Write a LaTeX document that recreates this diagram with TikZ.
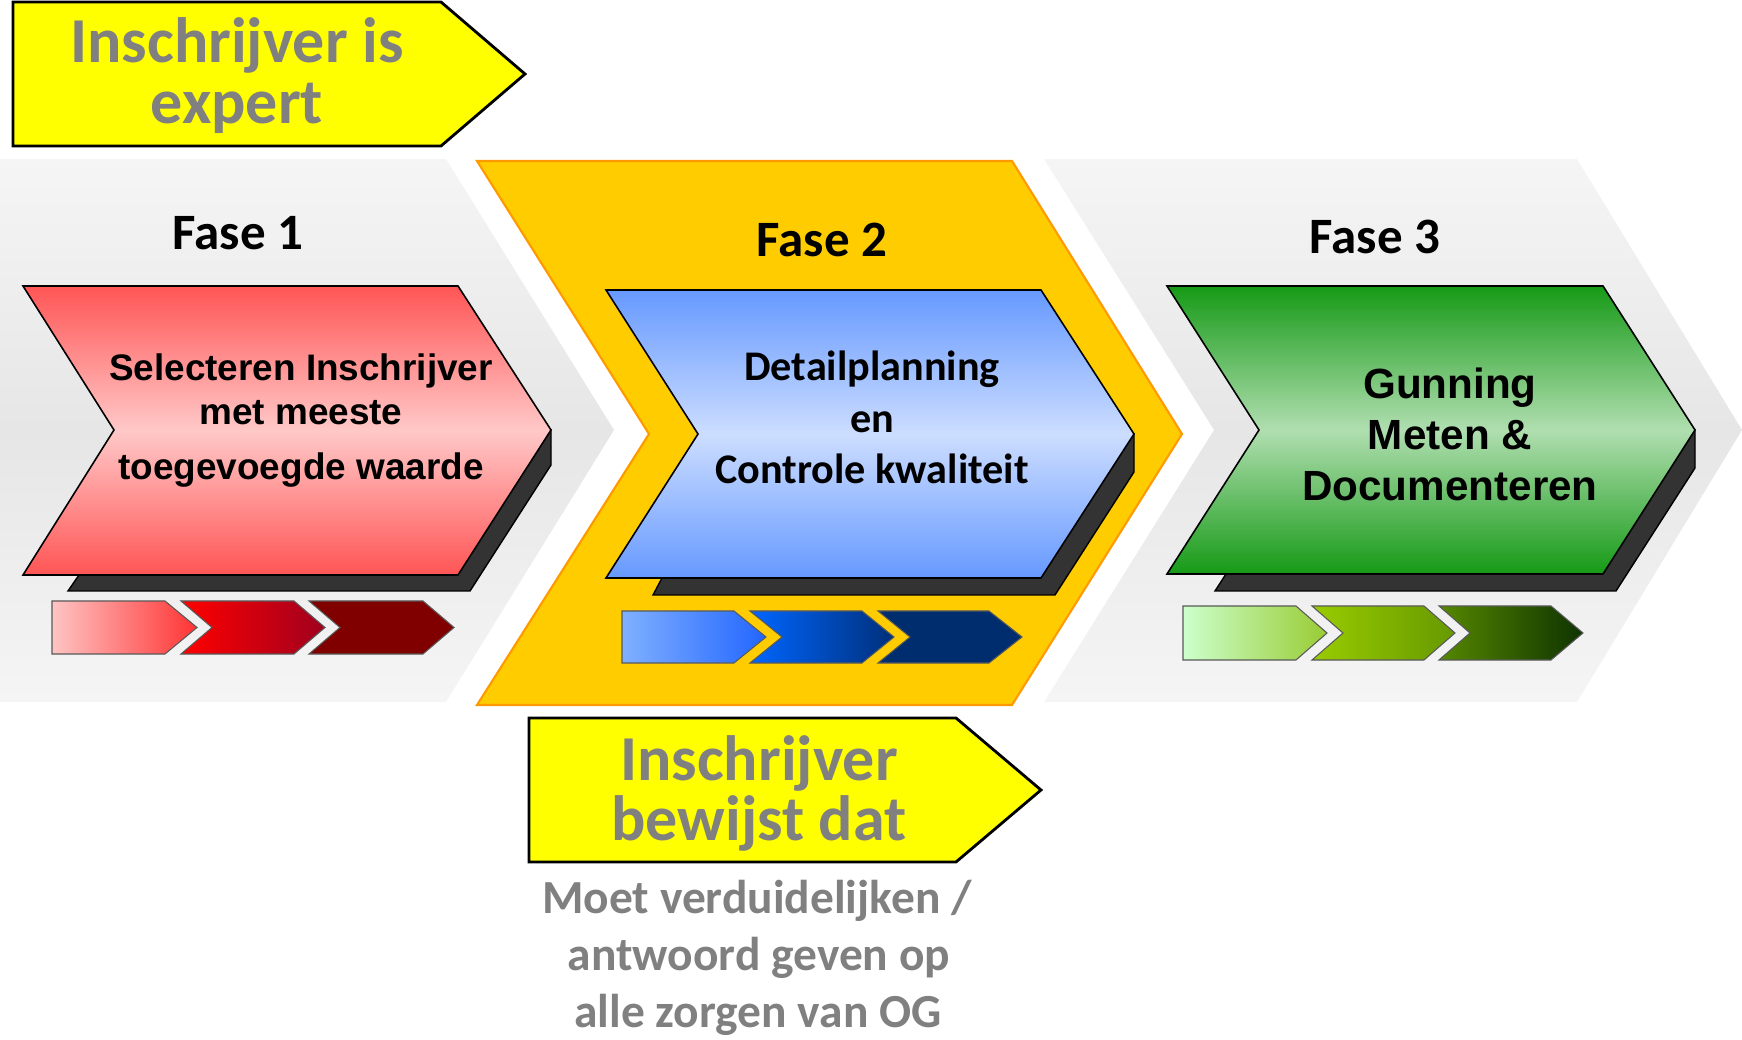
\documentclass[tikz,border=0pt]{standalone}
\usepackage{fontspec}
\setmainfont{Carlito}
\newfontfamily\arialfont{Liberation Sans}
\usepackage{xcolor}

\definecolor{bggray}{HTML}{F5F5F5}
\definecolor{bgmid}{HTML}{E6E6E6}
\definecolor{faseorange}{HTML}{FFCC00}
\definecolor{faseorangeline}{HTML}{FF9900}
\definecolor{signyellow}{HTML}{FFFF00}
\definecolor{labelgray}{HTML}{808080}
\definecolor{shadowgray}{HTML}{333333}
\definecolor{redtop}{HTML}{FF5555}
\definecolor{redmid}{HTML}{FFC8C8}
\definecolor{bluetop}{HTML}{6699FF}
\definecolor{bluemid}{HTML}{CCDDFF}
\definecolor{greentop}{HTML}{169A16}
\definecolor{greenmid}{HTML}{B0DEB0}
% kleine pijlen
\definecolor{redA}{HTML}{FFC4C4}
\definecolor{redB}{HTML}{FF3333}
\definecolor{redC}{HTML}{FF0000}
\definecolor{redD}{HTML}{A0001E}
\definecolor{redE}{HTML}{800000}
\definecolor{blueA}{HTML}{80B0FF}
\definecolor{blueB}{HTML}{2266FF}
\definecolor{blueC}{HTML}{0066FF}
\definecolor{blueD}{HTML}{002F7A}
\definecolor{blueE}{HTML}{002D6E}
\definecolor{greenA}{HTML}{CCFFCC}
\definecolor{greenB}{HTML}{99CC33}
\definecolor{greenC}{HTML}{99CC00}
\definecolor{greenD}{HTML}{669900}
\definecolor{greenE}{HTML}{558800}
\definecolor{greenF}{HTML}{0F3300}

\begin{document}
\begin{tikzpicture}[x=0.01cm,y=-0.01cm,
    fasebg/.style={top color=bggray,bottom color=bggray,middle color=bgmid},
    chevline/.style={draw=black,line width=0.45pt},
    shadowfill/.style={fill=shadowgray,draw=black,line width=0.4pt},
    minichev/.style={draw=black!65,line width=0.3pt},
    signbox/.style={fill=signyellow,draw=black,line width=0.8pt},
    faselabel/.style={anchor=base,font=\fontsize{14.5}{17}\selectfont\bfseries},
    redtext/.style={anchor=base,font=\arialfont\fontsize{10.5}{12}\selectfont\bfseries},
    bluetext/.style={anchor=base,font=\fontsize{12}{14}\selectfont\bfseries},
    greentext/.style={anchor=base,font=\arialfont\fontsize{12}{14}\selectfont\bfseries},
    signtext/.style={anchor=base,text=labelgray,font=\fontsize{18.2}{20}\selectfont\bfseries},
    notetext/.style={anchor=base,text=labelgray,font=\fontsize{13.5}{15}\selectfont\bfseries}]
    \useasboundingbox (0,0) rectangle (1742,1040);

    % achtergrond fasen
    \shade[fasebg] (0,159) -- (446,159) -- (614,430) -- (446,702) -- (0,702) -- cycle;
    \draw[fill=faseorange,draw=faseorangeline,line width=0.6pt] (477,161) -- (1012,161) -- (1182,434) -- (1012,705) -- (477,705) -- (649,434) -- cycle;
    \shade[fasebg] (1044,159) -- (1577,159) -- (1742,430) -- (1577,702) -- (1044,702) -- (1214,430) -- cycle;

    % bordjes
    \draw[signbox] (13,2) -- (441,2) -- (525,74) -- (441,146) -- (13,146) -- cycle;
    \draw[signbox] (529,718) -- (956,718) -- (1041,790) -- (956,862) -- (529,862) -- cycle;

    % schaduwen
    \draw[shadowfill] (79,575) -- (68,591) -- (470,591) -- (551,465) -- (551,430) -- cycle;
    \draw[shadowfill] (662,578) -- (653,595) -- (1055,595) -- (1134,472) -- (1134,434) -- cycle;
    \draw[shadowfill] (1226,574) -- (1215,591) -- (1616,591) -- (1695,468) -- (1695,430) -- cycle;

    % hoofdpijlen
    \shade[top color=redtop,bottom color=redtop,middle color=redmid,chevline] (23,286) -- (458,286) -- (551,430) -- (458,575) -- (23,575) -- (114,430) -- cycle;
    \shade[top color=bluetop,bottom color=bluetop,middle color=bluemid,chevline] (606,290) -- (1041,290) -- (1134,434) -- (1041,578) -- (606,578) -- (698,434) -- cycle;
    \shade[top color=greentop,bottom color=greentop,middle color=greenmid,chevline] (1167,286) -- (1603,286) -- (1695,430) -- (1603,574) -- (1167,574) -- (1259,430) -- cycle;

    % kleine pijlen
    \shade[left color=redA,right color=redB,minichev] (52,601) -- (165,601) -- (197,627.5) -- (165,654) -- (52,654) -- cycle;
    \shade[left color=redC,right color=redD,minichev] (181,601) -- (294,601) -- (325,627.5) -- (294,654) -- (181,654) -- (212,627.5) -- cycle;
    \draw[fill=redE,minichev] (309,601) -- (423,601) -- (454,627.5) -- (423,654) -- (309,654) -- (340,627.5) -- cycle;

    \shade[left color=blueA,right color=blueB,minichev] (622,611) -- (734,611) -- (766,637) -- (734,663) -- (622,663) -- cycle;
    \shade[left color=blueC,right color=blueD,minichev] (750,611) -- (862,611) -- (894,637) -- (862,663) -- (750,663) -- (782,637) -- cycle;
    \draw[fill=blueE,minichev] (878,611) -- (989,611) -- (1022,637) -- (989,663) -- (878,663) -- (910,637) -- cycle;

    \shade[left color=greenA,right color=greenB,minichev] (1183,606) -- (1296,606) -- (1327,633) -- (1296,660) -- (1183,660) -- cycle;
    \shade[left color=greenC,right color=greenD,minichev] (1312,606) -- (1424,606) -- (1455,633) -- (1424,660) -- (1312,660) -- (1343,633) -- cycle;
    \shade[left color=greenE,right color=greenF,minichev] (1439,606) -- (1551,606) -- (1583,633) -- (1551,660) -- (1439,660) -- (1470,633) -- cycle;

    % teksten
    \node[faselabel] (fase1) at (238,250) {Fase 1};
    \node[faselabel] (fase2) at (822,257) {Fase 2};
    \node[faselabel] (fase3) at (1375,254) {Fase 3};

    \node[redtext] (select1) at (301,381) {Selecteren Inschrijver};
    \node[redtext] (select2) at (301,425) {met meeste};
    \node[redtext] (select3) at (301,480) {toegevoegde waarde};

    \node[bluetext] (detail1) at (872,381) {Detailplanning};
    \node[bluetext] (detail2) at (872,433) {en};
    \node[bluetext] (detail3) at (872,484) {Controle kwaliteit};

    \node[greentext] (gunning1) at (1450,399) {Gunning};
    \node[greentext] (gunning2) at (1450,450) {Meten \&};
    \node[greentext] (gunning3) at (1450,501) {Documenteren};

    \node[signtext] (expert1) at (237,63) {Inschrijver is};
    \node[signtext] (expert2) at (237,124) {expert};
    \node[signtext] (bewijs1) at (759,780) {Inschrijver};
    \node[signtext] (bewijs2) at (759,840) {bewijst dat};

    \node[notetext] (zorgen1) at (757,913) {Moet verduidelijken /};
    \node[notetext] (zorgen2) at (759,970) {antwoord geven op};
    \node[notetext] (zorgen3) at (758,1027) {alle zorgen van OG};
\end{tikzpicture}
\end{document}
